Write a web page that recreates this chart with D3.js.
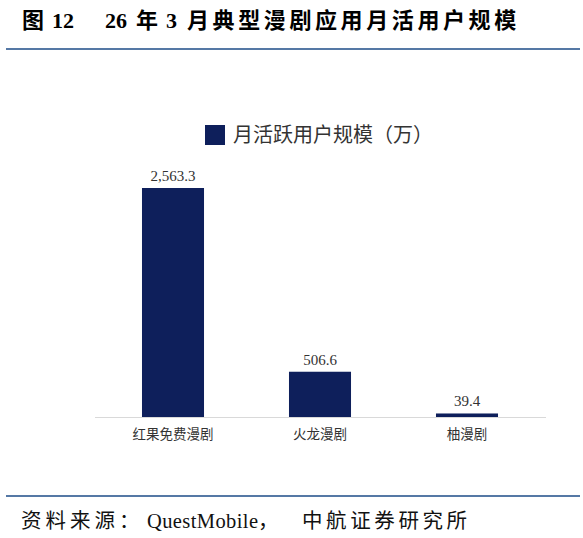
<!DOCTYPE html>
<html>
<head>
<meta charset="utf-8">
<script src="https://cdn.jsdelivr.net/npm/d3@7"></script>
<style>
  body { margin: 0; background: #fff; }
  svg { display: block; }
</style>
</head>
<body>
<svg id="chart" width="583" height="538"></svg>
<script>
const categories = ['红果免费漫剧', '火龙漫剧', '柚漫剧'];
const values = [2563.3, 506.6, 39.4];
const valueLabels = ['2,563.3', '506.6', '39.4'];
const seriesName = '月活跃用户规模（万）';

const svg = d3.select("#chart");

const barColor = '#0e1f5b';
const ruleColor = '#1d4b87';
const mixedFont = "'Liberation Serif','Noto Sans CJK SC'";

// header, pieces placed like the original typesetting
const title = svg.append("text")
   .attr("y", 28)
   .attr("font-family", mixedFont)
   .attr("font-weight", "bold")
   .attr("font-size", 22)
   .attr("fill", "#000");

[
  {t: "图", x: 22, ls: 0},
  {t: "12", x: 52, ls: 0},
  {t: "26", x: 105, ls: 0},
  {t: "年", x: 136, ls: 0},
  {t: "3", x: 166, ls: 0},
  {t: "月典型漫剧应用月活用户规模", x: 187, ls: 3.6}
].forEach(p => {
  title.append("tspan").attr("x", p.x).attr("letter-spacing", p.ls).text(p.t);
});

svg.append("line")
   .attr("x1", 6).attr("x2", 580)
   .attr("y1", 49).attr("y2", 49)
   .attr("stroke", ruleColor).attr("stroke-width", 1.5);

// legend
svg.append("rect")
   .attr("x", 205).attr("y", 125)
   .attr("width", 20).attr("height", 20)
   .attr("fill", barColor);

svg.append("text")
   .attr("x", 233).attr("y", 142)
   .attr("font-family", "'Noto Sans CJK SC'")
   .attr("font-size", 20)
   .attr("fill", "#333")
   .text(seriesName);

// scales
const x = d3.scaleBand()
   .domain(categories)
   .range([99.5, 540.5])
   .paddingInner(0.578)
   .paddingOuter(0.289);

const y = d3.scaleLinear()
   .domain([0, 2563.3])
   .range([417, 188]);

const g = svg.append("g");

g.selectAll(".bar")
 .data(values)
 .enter().append("rect")
   .attr("class", "bar")
   .attr("x", (d, i) => x(categories[i]))
   .attr("y", d => y(d))
   .attr("width", x.bandwidth())
   .attr("height", d => y(0) - y(d))
   .attr("fill", barColor);

g.selectAll(".val")
 .data(values)
 .enter().append("text")
   .attr("class", "val")
   .attr("x", (d, i) => x(categories[i]) + x.bandwidth() / 2)
   .attr("y", d => y(d) - 7)
   .attr("text-anchor", "middle")
   .attr("font-family", "'Liberation Serif'")
   .attr("font-size", 15)
   .attr("fill", "#333")
   .text((d, i) => valueLabels[i]);

// baseline axis
const axis = g.append("g")
   .attr("transform", "translate(0," + y(0) + ")")
   .call(d3.axisBottom(x).tickSize(0).tickPadding(12));

axis.select(".domain")
   .attr("d", "M95,0.5H546")
   .attr("stroke", "#d9d9d9");

axis.selectAll(".tick text")
   .attr("font-family", "'Noto Sans CJK SC'")
   .attr("font-size", 13.5)
   .attr("fill", "#333");

// footer
svg.append("line")
   .attr("x1", 6).attr("x2", 580)
   .attr("y1", 496).attr("y2", 496)
   .attr("stroke", ruleColor).attr("stroke-width", 1.5);

const source = svg.append("text")
   .attr("y", 528)
   .attr("font-family", mixedFont)
   .attr("font-size", 20.5)
   .attr("fill", "#111");

[
  {t: "资料来源：", x: 21, ls: 4},
  {t: "QuestMobile", x: 147, ls: 0.4},
  {t: "，", x: 258, ls: 0},
  {t: "中航证券研究所", x: 302, ls: 3.6}
].forEach(p => {
  source.append("tspan").attr("x", p.x).attr("letter-spacing", p.ls).text(p.t);
});
</script>
</body>
</html>
